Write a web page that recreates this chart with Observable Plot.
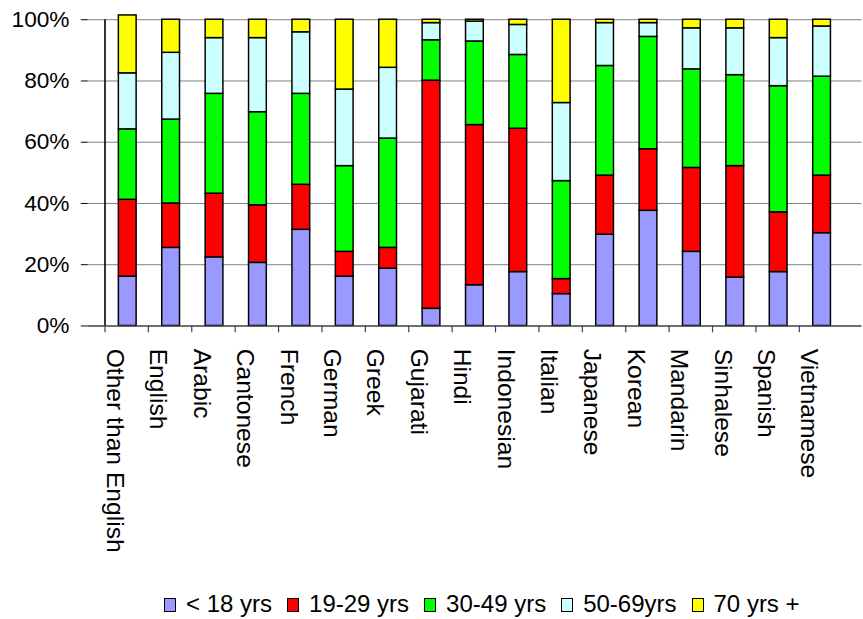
<!DOCTYPE html>
<html>
<head>
<meta charset="utf-8">
<script src="https://cdn.jsdelivr.net/npm/d3@7"></script>
<script src="https://cdn.jsdelivr.net/npm/@observablehq/plot@0.6"></script>
<style>
  html, body { margin: 0; padding: 0; background: #fff; overflow: hidden; }
  #wrap { position: relative; width: 863px; height: 619px; overflow: hidden; font-family: "Liberation Sans", Arial, sans-serif; }
  #chart { position: absolute; left: 0; top: 0; }
  #legend { position: absolute; top: 592px; left: 164px; white-space: nowrap; font-size: 24px; line-height: 24px; color: #000; }
  #legend .item { display: inline-block; margin-right: 15px; }
  #legend .sw { display: inline-block; width: 10px; height: 12px; border: 1px solid #000; margin-right: 10px; vertical-align: baseline; }
</style>
</head>
<body>
<div id="wrap"><div id="chart"></div><div id="legend"></div></div>
<script>
const categories = ["Other than English","English","Arabic","Cantonese","French","German","Greek","Gujarati","Hindi","Indonesian","Italian","Japanese","Korean","Mandarin","Sinhalese","Spanish","Vietnamese"];
const groups = ["< 18 yrs","19-29 yrs","30-49 yrs","50-69yrs","70 yrs +"];
const groupColors = ["#9999FF","#FF0000","#00FF00","#CCFFFF","#FFFF00"];
const under18   = [16.1,25.5,22.4,20.6,31.4,16.1,18.7, 5.6,13.3,17.6,10.4,29.8,37.6,24.2,15.8,17.6,30.3];
const age19to29 = [25.1,14.5,20.8,18.8,14.7, 8.1, 6.8,74.5,52.3,46.8, 4.9,19.3,20.1,27.4,36.4,19.5,18.8];
const age30to49 = [23.0,27.4,32.6,30.4,29.7,28.0,35.7,13.2,27.3,24.1,32.0,35.8,36.7,32.2,29.7,41.2,32.3];
const age50to69 = [18.3,21.8,18.2,24.2,20.1,25.0,23.1, 5.6, 6.5, 9.8,25.5,14.0, 4.5,13.4,15.3,15.7,16.4];
const age70plus = [18.9,10.8, 6.0, 6.0, 4.1,22.8,15.7, 1.1, 0.6, 1.7,27.2, 1.1, 1.1, 2.8, 2.8, 6.0, 2.2];
const yTicks = [0,20,40,60,80,100];

const series = [under18, age19to29, age30to49, age50to69, age70plus];
const data = [];
categories.forEach((c, i) => {
  groups.forEach((g, j) => data.push({category: c, group: g, value: series[j][i]}));
});

const W = 875, ML = 89, MR = 1.5;
const bw = (W - ML - MR) / categories.length;

const plot = Plot.plot({
  width: W,
  height: 570,
  marginLeft: ML,
  marginRight: MR,
  marginTop: 19.5,
  marginBottom: 240,
  style: {fontFamily: "'Liberation Sans', Arial, sans-serif", background: "white", color: "black"},
  x: {domain: categories, padding: 0.59, axis: null, label: null},
  y: {domain: [0, 100], axis: null, label: null},
  color: {domain: groups, range: groupColors},
  marks: [
    Plot.ruleY(yTicks.filter(d => d > 0), {stroke: "#808080", strokeWidth: 1}),
    Plot.barY(data, {x: "category", y: "value", fill: "group", stroke: "black", strokeWidth: 1.5}),
    Plot.ruleY([0], {stroke: "#404040", strokeWidth: 1.5}),
    Plot.ruleX([categories[0]], {dx: -bw / 2, stroke: "black", strokeWidth: 1.6, strokeOpacity: 1}),
    Plot.axisY({ticks: yTicks, tickFormat: d => d + "%", tickSize: 7, tickPadding: 12, fontSize: 23, stroke: "black"}),
    Plot.axisX({tickSize: 7, dx: -bw / 2, tickFormat: () => "", stroke: "#404040", strokeWidth: 1.2}),
    Plot.axisX({tickSize: 0, tickRotate: 90, tickPadding: 23, fontSize: 25, dx: -13})
  ]
});
document.getElementById("chart").appendChild(plot);

const legend = document.getElementById("legend");
groups.forEach((g, j) => {
  const item = document.createElement("span");
  item.className = "item";
  const sw = document.createElement("span");
  sw.className = "sw";
  sw.style.background = groupColors[j];
  item.appendChild(sw);
  item.appendChild(document.createTextNode(g));
  legend.appendChild(item);
});
</script>
</body>
</html>
